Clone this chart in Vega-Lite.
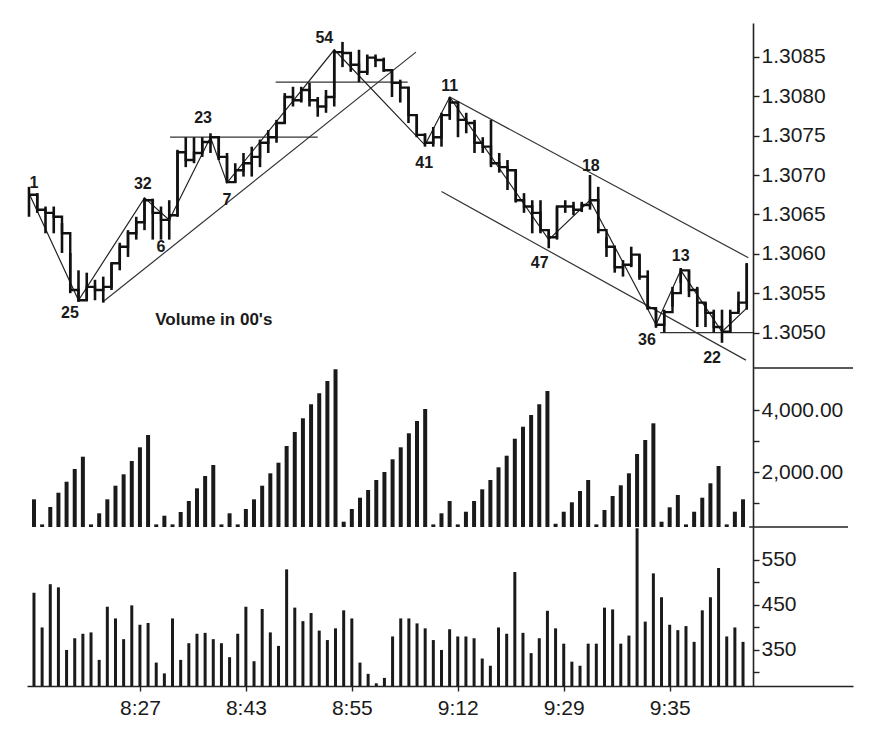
{
  "$schema": "https://vega.github.io/schema/vega-lite/v6.json",
  "background": "white",
  "padding": {"left": 24, "top": 23, "right": 46, "bottom": 10},
  "autosize": {"type": "pad"},
  "spacing": 0,
  "bounds": "flush",
  "config": {
    "view": {"stroke": null},
    "axis": {"labelFont": "Liberation Sans", "labelFontSize": 21, "labelColor": "#1a1a1a", "domainColor": "#222222", "tickColor": "#222222", "domainWidth": 1.6, "tickWidth": 1.4, "grid": false}
  },
  "datasets": {
    "bars": [
      {"i":0,"hi":1.30685,"lo":1.30647,"c":1.30675,"cv":1119,"v":477},
      {"i":1,"hi":1.30677,"lo":1.30652,"c":1.30656,"cv":310,"v":400},
      {"i":2,"hi":1.30660,"lo":1.30626,"c":1.30652,"cv":871,"v":496},
      {"i":3,"hi":1.30660,"lo":1.30626,"c":1.30647,"cv":1332,"v":489},
      {"i":4,"hi":1.30639,"lo":1.30601,"c":1.30626,"cv":1687,"v":350},
      {"i":5,"hi":1.30601,"lo":1.30550,"c":1.30554,"cv":2097,"v":376},
      {"i":6,"hi":1.30579,"lo":1.30539,"c":1.30541,"cv":2494,"v":386},
      {"i":7,"hi":1.30576,"lo":1.30541,"c":1.30558,"cv":310,"v":389},
      {"i":8,"hi":1.30567,"lo":1.30541,"c":1.30554,"cv":668,"v":328},
      {"i":9,"hi":1.30571,"lo":1.30538,"c":1.30558,"cv":1119,"v":446},
      {"i":10,"hi":1.30588,"lo":1.30554,"c":1.30588,"cv":1558,"v":420},
      {"i":11,"hi":1.30614,"lo":1.30579,"c":1.30609,"cv":1926,"v":374},
      {"i":12,"hi":1.30630,"lo":1.30596,"c":1.30626,"cv":2355,"v":449},
      {"i":13,"hi":1.30647,"lo":1.30618,"c":1.30640,"cv":2797,"v":406},
      {"i":14,"hi":1.30671,"lo":1.30630,"c":1.30668,"cv":3194,"v":410},
      {"i":15,"hi":1.30670,"lo":1.30618,"c":1.30652,"cv":310,"v":322},
      {"i":16,"hi":1.30660,"lo":1.30618,"c":1.30643,"cv":590,"v":298},
      {"i":17,"hi":1.30668,"lo":1.30618,"c":1.30649,"cv":310,"v":420},
      {"i":18,"hi":1.30732,"lo":1.30647,"c":1.30729,"cv":710,"v":328},
      {"i":19,"hi":1.30748,"lo":1.30710,"c":1.30719,"cv":1065,"v":365},
      {"i":20,"hi":1.30748,"lo":1.30715,"c":1.30728,"cv":1474,"v":386},
      {"i":21,"hi":1.30748,"lo":1.30723,"c":1.30742,"cv":1871,"v":388},
      {"i":22,"hi":1.30753,"lo":1.30728,"c":1.30748,"cv":2226,"v":374},
      {"i":23,"hi":1.30748,"lo":1.30719,"c":1.30723,"cv":310,"v":365},
      {"i":24,"hi":1.30728,"lo":1.30690,"c":1.30691,"cv":668,"v":334},
      {"i":25,"hi":1.30715,"lo":1.30690,"c":1.30706,"cv":310,"v":386},
      {"i":26,"hi":1.30728,"lo":1.30698,"c":1.30715,"cv":806,"v":446},
      {"i":27,"hi":1.30736,"lo":1.30698,"c":1.30723,"cv":1119,"v":325},
      {"i":28,"hi":1.30745,"lo":1.30710,"c":1.30741,"cv":1558,"v":441},
      {"i":29,"hi":1.30757,"lo":1.30728,"c":1.30748,"cv":1958,"v":389},
      {"i":30,"hi":1.30770,"lo":1.30741,"c":1.30766,"cv":2300,"v":359},
      {"i":31,"hi":1.30804,"lo":1.30766,"c":1.30799,"cv":2839,"v":529},
      {"i":32,"hi":1.30812,"lo":1.30787,"c":1.30795,"cv":3290,"v":444},
      {"i":33,"hi":1.30812,"lo":1.30792,"c":1.30808,"cv":3733,"v":414},
      {"i":34,"hi":1.30817,"lo":1.30787,"c":1.30795,"cv":4184,"v":432},
      {"i":35,"hi":1.30799,"lo":1.30774,"c":1.30787,"cv":4539,"v":393},
      {"i":36,"hi":1.30808,"lo":1.30779,"c":1.30799,"cv":4936,"v":372},
      {"i":37,"hi":1.30859,"lo":1.30787,"c":1.30856,"cv":5313,"v":398},
      {"i":38,"hi":1.30869,"lo":1.30837,"c":1.30855,"cv":397,"v":438},
      {"i":39,"hi":1.30856,"lo":1.30831,"c":1.30840,"cv":806,"v":420},
      {"i":40,"hi":1.30859,"lo":1.30818,"c":1.30831,"cv":1171,"v":322},
      {"i":41,"hi":1.30853,"lo":1.30827,"c":1.30849,"cv":1419,"v":297},
      {"i":42,"hi":1.30853,"lo":1.30837,"c":1.30846,"cv":1742,"v":276},
      {"i":43,"hi":1.30849,"lo":1.30831,"c":1.30833,"cv":2000,"v":288},
      {"i":44,"hi":1.30833,"lo":1.30799,"c":1.30817,"cv":2410,"v":380},
      {"i":45,"hi":1.30821,"lo":1.30792,"c":1.30811,"cv":2797,"v":420},
      {"i":46,"hi":1.30812,"lo":1.30766,"c":1.30776,"cv":3249,"v":420},
      {"i":47,"hi":1.30776,"lo":1.30748,"c":1.30751,"cv":3645,"v":409},
      {"i":48,"hi":1.30753,"lo":1.30736,"c":1.30741,"cv":4033,"v":398},
      {"i":49,"hi":1.30761,"lo":1.30736,"c":1.30748,"cv":310,"v":372},
      {"i":50,"hi":1.30779,"lo":1.30736,"c":1.30776,"cv":668,"v":350},
      {"i":51,"hi":1.30799,"lo":1.30770,"c":1.30792,"cv":1065,"v":396},
      {"i":52,"hi":1.30792,"lo":1.30748,"c":1.30770,"cv":310,"v":380},
      {"i":53,"hi":1.30779,"lo":1.30753,"c":1.30766,"cv":719,"v":380},
      {"i":54,"hi":1.30770,"lo":1.30728,"c":1.30741,"cv":1065,"v":376},
      {"i":55,"hi":1.30748,"lo":1.30728,"c":1.30736,"cv":1442,"v":331},
      {"i":56,"hi":1.30770,"lo":1.30710,"c":1.30715,"cv":1742,"v":315},
      {"i":57,"hi":1.30728,"lo":1.30703,"c":1.30710,"cv":2152,"v":400},
      {"i":58,"hi":1.30719,"lo":1.30681,"c":1.30706,"cv":2526,"v":386},
      {"i":59,"hi":1.30706,"lo":1.30665,"c":1.30668,"cv":3074,"v":523},
      {"i":60,"hi":1.30677,"lo":1.30652,"c":1.30660,"cv":3461,"v":388},
      {"i":61,"hi":1.30668,"lo":1.30626,"c":1.30652,"cv":3839,"v":343},
      {"i":62,"hi":1.30668,"lo":1.30626,"c":1.30630,"cv":4184,"v":376},
      {"i":63,"hi":1.30630,"lo":1.30607,"c":1.30621,"cv":4613,"v":437},
      {"i":64,"hi":1.30660,"lo":1.30618,"c":1.30660,"cv":330,"v":398},
      {"i":65,"hi":1.30668,"lo":1.30652,"c":1.30660,"cv":719,"v":364},
      {"i":66,"hi":1.30666,"lo":1.30649,"c":1.30656,"cv":1023,"v":324},
      {"i":67,"hi":1.30666,"lo":1.30653,"c":1.30662,"cv":1387,"v":315},
      {"i":68,"hi":1.30700,"lo":1.30656,"c":1.30668,"cv":1742,"v":364},
      {"i":69,"hi":1.30685,"lo":1.30626,"c":1.30630,"cv":310,"v":364},
      {"i":70,"hi":1.30621,"lo":1.30596,"c":1.30609,"cv":774,"v":444},
      {"i":71,"hi":1.30609,"lo":1.30576,"c":1.30583,"cv":1226,"v":440},
      {"i":72,"hi":1.30592,"lo":1.30571,"c":1.30586,"cv":1571,"v":364},
      {"i":73,"hi":1.30609,"lo":1.30583,"c":1.30599,"cv":1958,"v":382},
      {"i":74,"hi":1.30599,"lo":1.30567,"c":1.30571,"cv":2581,"v":620},
      {"i":75,"hi":1.30579,"lo":1.30529,"c":1.30531,"cv":3032,"v":413},
      {"i":76,"hi":1.30529,"lo":1.30506,"c":1.30510,"cv":3571,"v":520},
      {"i":77,"hi":1.30529,"lo":1.30500,"c":1.30526,"cv":397,"v":467},
      {"i":78,"hi":1.30558,"lo":1.30533,"c":1.30550,"cv":861,"v":406},
      {"i":79,"hi":1.30582,"lo":1.30563,"c":1.30579,"cv":1258,"v":394},
      {"i":80,"hi":1.30579,"lo":1.30545,"c":1.30554,"cv":310,"v":403},
      {"i":81,"hi":1.30558,"lo":1.30507,"c":1.30538,"cv":719,"v":368},
      {"i":82,"hi":1.30538,"lo":1.30507,"c":1.30525,"cv":1171,"v":438},
      {"i":83,"hi":1.30529,"lo":1.30500,"c":1.30507,"cv":1636,"v":467},
      {"i":84,"hi":1.30529,"lo":1.30487,"c":1.30501,"cv":2194,"v":532},
      {"i":85,"hi":1.30529,"lo":1.30500,"c":1.30525,"cv":310,"v":380},
      {"i":86,"hi":1.30552,"lo":1.30526,"c":1.30538,"cv":719,"v":400},
      {"i":87,"hi":1.30588,"lo":1.30529,"c":1.30588,"cv":1119,"v":368}
    ],
    "wave": [
      {"i":0,"p":1.30677},{"i":6,"p":1.30541},{"i":14,"p":1.30671},{"i":17,"p":1.30643},
      {"i":22,"p":1.30748},{"i":24,"p":1.30690},{"i":37,"p":1.30859},{"i":48,"p":1.30738},
      {"i":51,"p":1.30799},{"i":63,"p":1.30618},{"i":68,"p":1.30668},{"i":76,"p":1.30510},
      {"i":79,"p":1.30579},{"i":84,"p":1.30501},{"i":87,"p":1.30531}
    ],
    "labels": [
      {"i":0.6,"p":1.30690,"n":"1"},{"i":4.97,"p":1.30525,"n":"25"},{"i":13.8,"p":1.30689,"n":"32"},
      {"i":16,"p":1.30609,"n":"6"},{"i":21.1,"p":1.30773,"n":"23"},{"i":24,"p":1.30668,"n":"7"},
      {"i":35.8,"p":1.30874,"n":"54"},{"i":47.9,"p":1.30715,"n":"41"},{"i":51,"p":1.30813,"n":"11"},
      {"i":61.9,"p":1.30588,"n":"47"},{"i":68.1,"p":1.30712,"n":"18"},{"i":74.9,"p":1.30491,"n":"36"},
      {"i":79,"p":1.30597,"n":"13"},{"i":82.8,"p":1.30468,"n":"22"}
    ],
    "trend": [
      {"id":"L1","i":8.97,"p":1.30539},{"id":"L1","i":46.9,"p":1.30856},
      {"id":"L2","i":17.1,"p":1.30748},{"id":"L2","i":35.0,"p":1.30748},
      {"id":"L3","i":29.9,"p":1.30818},{"id":"L3","i":45.9,"p":1.30818},
      {"id":"L4","i":51.0,"p":1.30799},{"id":"L4","i":87.2,"p":1.30595},
      {"id":"L5","i":50.0,"p":1.30679},{"id":"L5","i":86.9,"p":1.30465},
      {"id":"L6","i":76.5,"p":1.30500},{"id":"L6","i":87.76,"p":1.30500}
    ]
  },
  "vconcat": [
    {
      "width": 826,
      "height": 345,
      "layer": [
        {
          "data": {"name": "trend"},
          "mark": {"type": "line", "color": "#333333", "strokeWidth": 1.2},
          "encoding": {
            "x": {"field": "i", "type": "quantitative", "title": null, "scale": {"domain": [-0.2424, 99.88], "nice": false, "zero": false}, "axis": null},
            "y": {"field": "p", "type": "quantitative", "title": null, "scale": {"domain": [1.30455, 1.30893], "nice": false, "zero": false},
                  "axis": {"orient": "right", "offset": -100, "values": [1.305, 1.3055, 1.306, 1.3065, 1.307, 1.3075, 1.308, 1.3085], "format": ".4f", "tickSize": 6, "labelPadding": 2, "labelBaseline": "middle"}},
            "detail": {"field": "id"}
          }
        },
        {
          "data": {"name": "wave"},
          "mark": {"type": "line", "color": "#222222", "strokeWidth": 1.2},
          "encoding": {
            "x": {"field": "i", "type": "quantitative", "title": null, "axis": null},
            "y": {"field": "p", "type": "quantitative", "title": null}
          }
        },
        {
          "data": {"name": "bars"},
          "mark": {"type": "rule", "color": "#111111", "strokeWidth": 2.6},
          "encoding": {
            "x": {"field": "i", "type": "quantitative", "title": null, "axis": null},
            "y": {"field": "lo", "type": "quantitative", "title": null},
            "y2": {"field": "hi"}
          }
        },
        {
          "data": {"name": "bars"},
          "mark": {"type": "line", "interpolate": "step-after", "color": "#111111", "strokeWidth": 2.4},
          "encoding": {
            "x": {"field": "i", "type": "quantitative", "title": null, "axis": null},
            "y": {"field": "c", "type": "quantitative", "title": null}
          }
        },
        {
          "data": {"name": "labels"},
          "mark": {"type": "text", "font": "Liberation Sans", "fontWeight": "bold", "fontSize": 16, "color": "#1a1a1a", "baseline": "middle", "align": "center"},
          "encoding": {
            "x": {"field": "i", "type": "quantitative", "title": null, "axis": null},
            "y": {"field": "p", "type": "quantitative", "title": null},
            "text": {"field": "n"}
          }
        },
        {
          "data": {"values": [{"i": 22.4, "p": 1.30516, "t": "Volume in 00's"}]},
          "mark": {"type": "text", "font": "Liberation Sans", "fontWeight": "bold", "fontSize": 17, "color": "#1a1a1a", "baseline": "middle", "align": "center"},
          "encoding": {
            "x": {"field": "i", "type": "quantitative", "title": null, "axis": null},
            "y": {"field": "p", "type": "quantitative", "title": null},
            "text": {"field": "t"}
          }
        },
        {
          "data": {"values": [{}]},
          "mark": {"type": "rule", "color": "#222222", "strokeWidth": 1.6},
          "encoding": {
            "x": {"datum": 87.76, "type": "quantitative", "title": null, "axis": null},
            "x2": {"datum": 99.88},
            "y": {"datum": 1.30455, "type": "quantitative", "title": null}
          }
        }
      ]
    },
    {
      "width": 826,
      "height": 159,
      "layer": [
        {
          "data": {"name": "bars"},
          "mark": {"type": "bar", "color": "#1a1a1a", "size": 4, "orient": "vertical", "clip": true},
          "encoding": {
            "x": {"field": "i", "type": "quantitative", "title": null, "scale": {"domain": [-0.2424, 99.88], "nice": false, "zero": false}, "axis": null},
            "y": {"field": "cv", "type": "quantitative", "title": null, "scale": {"domain": [226, 5355], "nice": false, "zero": false},
                  "axis": {"orient": "right", "offset": -100, "values": [1000, 2000, 3000, 4000], "format": ",.2f", "labelExpr": "datum.value % 2000 == 0 ? datum.label : ''", "tickSize": 6, "labelPadding": 2, "labelBaseline": "middle"}}
          }
        },
        {
          "data": {"values": [{}]},
          "mark": {"type": "rule", "color": "#222222", "strokeWidth": 1.6},
          "encoding": {
            "x": {"datum": 87.76, "type": "quantitative", "title": null, "axis": null},
            "x2": {"datum": 99.88},
            "y": {"datum": 226, "type": "quantitative", "title": null}
          }
        }
      ]
    },
    {
      "width": 826,
      "height": 159,
      "data": {"name": "bars"},
      "mark": {"type": "bar", "color": "#1a1a1a", "size": 3, "orient": "vertical", "clip": true},
      "encoding": {
        "x": {"field": "i", "type": "quantitative", "title": null, "scale": {"domain": [-0.2424, 99.88], "nice": false, "zero": false},
              "axis": {"orient": "bottom", "values": [13, 26, 39, 52, 65, 78], "labelExpr": "datum.value == 13 ? '8:27' : datum.value == 26 ? '8:43' : datum.value == 39 ? '8:55' : datum.value == 52 ? '9:12' : datum.value == 65 ? '9:29' : '9:35'", "tickSize": 5, "labelPadding": 6, "labelFlush": false}},
        "y": {"field": "v", "type": "quantitative", "title": null, "scale": {"domain": [270, 623], "nice": false, "zero": false},
              "axis": {"orient": "right", "offset": -100, "values": [300, 350, 400, 450, 500, 550], "labelExpr": "datum.value % 100 == 50 ? datum.label : ''", "tickSize": 6, "labelPadding": 2, "labelBaseline": "middle"}}
      }
    }
  ]
}
